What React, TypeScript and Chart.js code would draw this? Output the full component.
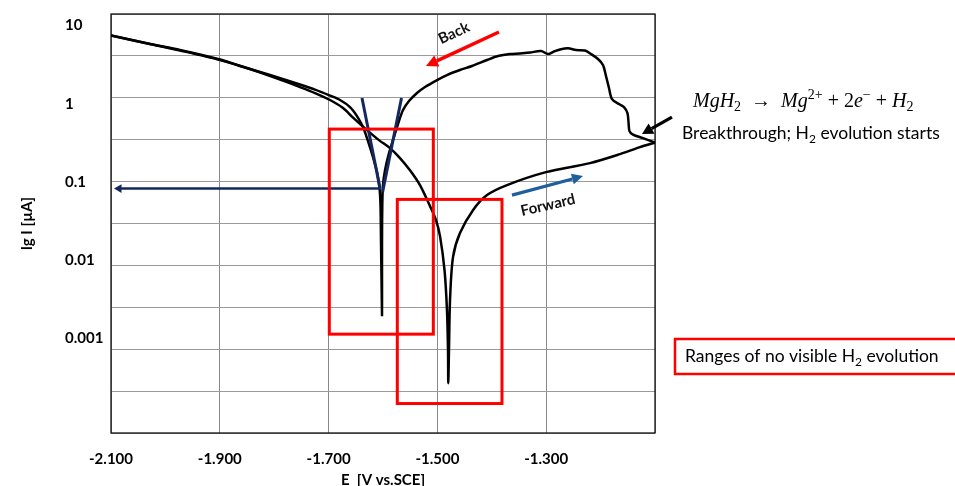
import React, { useEffect, useRef } from 'react';
import { Chart, registerables } from 'chart.js';

Chart.register(...registerables);

// ---- Data (E in V vs. SCE, I in µA) ----
const forwardE = [-2.1, -2.0283, -1.9732, -1.8996, -1.8445, -1.7893, -1.7526, -1.725, -1.6974, -1.6735, -1.6551, -1.6294, -1.6074, -1.5871, -1.5688, -1.5504, -1.532, -1.5136, -1.5026, -1.4952, -1.4869, -1.4824, -1.4805, -1.48, -1.4787, -1.4768, -1.4713, -1.4585, -1.4346, -1.4088, -1.3721, -1.3004, -1.2195, -1.1643, -1.1276, -1.1];
const forwardI = [7.47, 5.82, 4.805, 3.632, 2.786, 2.045, 1.64, 1.374, 1.12, 0.884, 0.668, 0.462, 0.344, 0.272, 0.203, 0.142, 0.0916, 0.0493, 0.0327, 0.0204, 0.0075, 0.00231, 0.000711, 0.000269, 0.000711, 0.0031, 0.011, 0.0223, 0.0438, 0.0682, 0.0916, 0.134, 0.175, 0.228, 0.28, 0.32];

const backE = [-1.1, -1.1221, -1.1404, -1.1469, -1.1487, -1.1506, -1.157, -1.1662, -1.179, -1.1846, -1.1901, -1.1956, -1.2048, -1.2176, -1.2287, -1.2452, -1.2599, -1.2746, -1.2857, -1.2967, -1.3096, -1.3298, -1.3482, -1.3665, -1.3886, -1.4088, -1.4364, -1.4585, -1.4824, -1.5007, -1.5228, -1.5375, -1.5522, -1.5632, -1.5724, -1.5816, -1.5899, -1.5963, -1.6, -1.6013, -1.6018, -1.6018, -1.6018, -1.6027, -1.6037, -1.6046, -1.6064, -1.611, -1.6184, -1.6276, -1.6368, -1.6478, -1.6607, -1.679, -1.6974, -1.725, -1.7526, -1.8077, -1.8629, -1.8996, -1.9732, -2.0283, -2.1];
const backI = [0.32, 0.365, 0.405, 0.449, 0.585, 0.763, 0.91, 0.994, 1.152, 1.592, 2.267, 3.134, 3.74, 4.334, 4.805, 4.876, 5.125, 4.948, 4.665, 4.334, 4.735, 4.529, 4.398, 4.334, 4.087, 3.632, 3.044, 2.705, 2.335, 2.015, 1.64, 1.374, 1.086, 0.833, 0.552, 0.344, 0.2215, 0.142, 0.0916, 0.0508, 0.01813, 0.00558, 0.00193, 0.00558, 0.01813, 0.0508, 0.0838, 0.134, 0.209, 0.334, 0.505, 0.698, 0.91, 1.12, 1.277, 1.523, 1.765, 2.335, 3.044, 3.686, 4.876, 5.82, 7.47];

const tafelAnodicE = [-1.566, -1.6006];
const tafelAnodicI = [1.186, 0.0756];
const tafelCathodicE = [-1.6386, -1.6055];
const tafelCathodicI = [1.186, 0.0838];
const icorrE = [-1.6055, -2.0853];
const icorrI = [0.0826, 0.0826];

const xTicks = [-2.1, -1.9, -1.7, -1.5, -1.3, -1.1];
const xTickLabels = ['-2.100', '-1.900', '-1.700', '-1.500', '-1.300', ''];
const yTicks = [10, 1, 0.1, 0.01, 0.001];
const yTickLabels = ['10', '1', '0.1', '0.01', '0.001'];
const xMin = -2.1;
const xMax = -1.1;
const yMin = 6.22e-5;
const yMax = 14.07;

// ---- Annotations (data coordinates) ----
const rangeBoxesE = [[-1.6987, -1.5075], [-1.5737, -1.3813]];
const rangeBoxesI = [[0.00114, 0.476], [0.000148, 0.0601]];
const backArrowE = [-1.3868, -1.521];
const backArrowI = [8.28, 3.044];
const backLabel = { e: -1.4695, i: 8.04, text: 'Back' };
const forwardArrowE = [-1.3629, -1.2324];
const forwardArrowI = [0.0682, 0.1193];
const forwardLabel = { e: -1.2967, i: 0.0508, text: 'Forward' };
const breakArrowE = [-1.0688, -1.1239];
const breakArrowI = [0.678, 0.411];

const FONT = 'Lato, "Open Sans", sans-serif';
const SERIF = '"Liberation Serif", "DejaVu Serif", serif';

function arrow(ctx: CanvasRenderingContext2D, x1: number, y1: number, x2: number, y2: number, color: string, lw: number, hl: number, hw: number) {
  const a = Math.atan2(y2 - y1, x2 - x1);
  const bx = x2 - hl * Math.cos(a);
  const by = y2 - hl * Math.sin(a);
  ctx.save();
  ctx.strokeStyle = color;
  ctx.fillStyle = color;
  ctx.lineWidth = lw;
  ctx.beginPath();
  ctx.moveTo(x1, y1);
  ctx.lineTo(bx, by);
  ctx.stroke();
  ctx.beginPath();
  ctx.moveTo(x2, y2);
  ctx.lineTo(bx + hw * Math.sin(a), by - hw * Math.cos(a));
  ctx.lineTo(bx - hw * Math.sin(a), by + hw * Math.cos(a));
  ctx.closePath();
  ctx.fill();
  ctx.restore();
}

type Part = { t: string; font: string; dy?: number };
function rich(ctx: CanvasRenderingContext2D, x: number, y: number, parts: Part[]) {
  let cx = x;
  for (const p of parts) {
    ctx.font = p.font;
    ctx.fillText(p.t, cx, y + (p.dy || 0));
    cx += ctx.measureText(p.t).width;
  }
  return cx;
}

const annotPlugin = {
  id: 'annot',
  beforeDatasetsDraw(chart: any) {
    const { ctx, chartArea: a } = chart;
    ctx.save();
    ctx.strokeStyle = '#111';
    ctx.lineWidth = 1.3;
    ctx.strokeRect(a.left, a.top, a.right - a.left, a.bottom - a.top);
    ctx.restore();
  },
  afterDatasetsDraw(chart: any) {
    const { ctx } = chart;
    const X = (e: number) => chart.scales.x.getPixelForValue(e);
    const Y = (i: number) => chart.scales.y.getPixelForValue(i);
    ctx.save();
    ctx.strokeStyle = '#ff0000';
    ctx.lineWidth = 3;
    rangeBoxesE.forEach((be, k) => {
      const bi = rangeBoxesI[k];
      const x1 = X(be[0]), x2 = X(be[1]);
      const y1 = Y(bi[1]), y2 = Y(bi[0]);
      ctx.strokeRect(x1, y1, x2 - x1, y2 - y1);
    });
    arrow(ctx, X(backArrowE[0]), Y(backArrowI[0]), X(backArrowE[1]), Y(backArrowI[1]), '#ff0000', 3.5, 12, 6);
    arrow(ctx, X(forwardArrowE[0]), Y(forwardArrowI[0]), X(forwardArrowE[1]), Y(forwardArrowI[1]), '#1f5f9e', 3.2, 11, 5.5);
    arrow(ctx, X(breakArrowE[0]), Y(breakArrowI[0]), X(breakArrowE[1]), Y(breakArrowI[1]), '#000', 3.2, 11, 6);
    ctx.fillStyle = '#111';
    ctx.textAlign = 'center';
    ctx.textBaseline = 'middle';
    ctx.font = `bold 15px ${FONT}`;
    ctx.save();
    ctx.translate(X(backLabel.e), Y(backLabel.i));
    ctx.rotate(-25 * Math.PI / 180);
    ctx.fillText(backLabel.text, 0, 0);
    ctx.restore();
    ctx.save();
    ctx.translate(X(forwardLabel.e), Y(forwardLabel.i));
    ctx.rotate(-13 * Math.PI / 180);
    ctx.fillText(forwardLabel.text, 0, 0);
    ctx.restore();
    ctx.restore();
  },
  afterDraw(chart: any) {
    const { ctx, chartArea: a } = chart;
    ctx.save();
    ctx.fillStyle = '#000';
    ctx.font = `bold 15px ${FONT}`;
    ctx.textAlign = 'center';
    ctx.textBaseline = 'middle';
    ctx.save();
    ctx.translate(27, (a.top + a.bottom) / 2);
    ctx.rotate(-Math.PI / 2);
    ctx.fillText('lg I [µA]', 0, 0);
    ctx.restore();
    ctx.fillText('E  [V vs.SCE]', (a.left + a.right) / 2, 480);

    ctx.textAlign = 'left';
    ctx.textBaseline = 'alphabetic';
    const S = 20;
    const it = `italic ${S}px ${SERIF}`;
    const up = `${S}px ${SERIF}`;
    const sm = `${Math.round(S * 0.7)}px ${SERIF}`;
    rich(ctx, 693, 107, [
      { t: 'MgH', font: it },
      { t: '2', font: sm, dy: 4 },
      { t: '  →  ', font: up },
      { t: 'Mg', font: it },
      { t: '2+', font: sm, dy: -8 },
      { t: ' + 2', font: up },
      { t: 'e', font: it },
      { t: '−', font: sm, dy: -8 },
      { t: ' + ', font: up },
      { t: 'H', font: it },
      { t: '2', font: sm, dy: 4 },
    ]);
    const f = `17.5px ${FONT}`;
    const fs = `12px ${FONT}`;
    rich(ctx, 682, 139, [
      { t: 'Breakthrough; H', font: f },
      { t: '2', font: fs, dy: 4 },
      { t: ' evolution starts', font: f },
    ]);
    ctx.strokeStyle = '#ff0000';
    ctx.lineWidth = 2.5;
    ctx.strokeRect(675, 339, 300, 35);
    rich(ctx, 685, 362, [
      { t: 'Ranges of no visible H', font: f },
      { t: '2', font: fs, dy: 4 },
      { t: ' evolution', font: f },
    ]);
    ctx.restore();
  },
};

export default function App() {
  const ref = useRef<HTMLCanvasElement>(null);
  useEffect(() => {
    if (!ref.current) return;
    const pts = (es: number[], is: number[]) => es.map((e, k) => ({ x: e, y: is[k] }));
    const tickFont = { family: FONT, size: 15, weight: 'bold' as const };
    const chart = new Chart(ref.current, {
      type: 'line',
      data: {
        datasets: [
          {
            data: pts(icorrE, icorrI),
            borderColor: '#14285f',
            backgroundColor: '#14285f',
            borderWidth: 2.5,
            pointRadius: [0, 5],
            pointStyle: 'triangle',
            pointRotation: -90,
            pointBorderWidth: 0,
          },
          { data: pts(tafelAnodicE, tafelAnodicI), borderColor: '#14285f', borderWidth: 3, pointRadius: 0 },
          { data: pts(tafelCathodicE, tafelCathodicI), borderColor: '#14285f', borderWidth: 3, pointRadius: 0 },
          { data: pts(forwardE, forwardI), borderColor: '#000', borderWidth: 2.5, pointRadius: 0, tension: 0.3 },
          { data: pts(backE, backI), borderColor: '#000', borderWidth: 2.5, pointRadius: 0, tension: 0.3 },
        ] as any,
      },
      options: {
        responsive: false,
        animation: false,
        events: [],
        layout: { padding: { left: 65, top: 14, right: 300, bottom: 0 } },
        plugins: { legend: { display: false }, tooltip: { enabled: false } },
        scales: {
          x: {
            type: 'linear',
            min: xMin,
            max: xMax,
            afterBuildTicks: (s: any) => { s.ticks = xTicks.map((v) => ({ value: v })); },
            afterFit: (s: any) => { s.height = 53; },
            grid: { color: '#8a8a8a', lineWidth: 1, drawTicks: false },
            border: { display: false },
            ticks: {
              padding: 17,
              color: '#000',
              font: tickFont,
              maxRotation: 0,
              autoSkip: false,
              callback: (_v: any, idx: number) => xTickLabels[idx],
            },
          },
          y: {
            type: 'logarithmic',
            min: yMin,
            max: yMax,
            position: 'left',
            afterBuildTicks: (s: any) => { s.ticks = yTicks.map((v) => ({ value: v })); },
            afterFit: (s: any) => { s.width = 46; },
            grid: { display: false, drawTicks: false },
            border: { display: false },
            ticks: {
              crossAlign: 'far',
              color: '#000',
              font: tickFont,
              autoSkip: false,
              callback: (_v: any, idx: number) => yTickLabels[idx],
            },
          },
          yGrid: {
            type: 'linear',
            min: 0,
            max: 10,
            position: 'left',
            ticks: { display: false, stepSize: 1 },
            grid: { color: '#9a9a9a', lineWidth: 1, drawTicks: false },
            border: { display: false },
          },
        } as any,
      },
      plugins: [annotPlugin],
    });
    return () => chart.destroy();
  }, []);
  return (
    <div style={{ position: 'fixed', left: 0, top: 0, width: 955, height: 486, background: '#fff' }}>
      <canvas ref={ref} width={955} height={486} style={{ display: 'block', width: 955, height: 486 }} />
    </div>
  );
}
